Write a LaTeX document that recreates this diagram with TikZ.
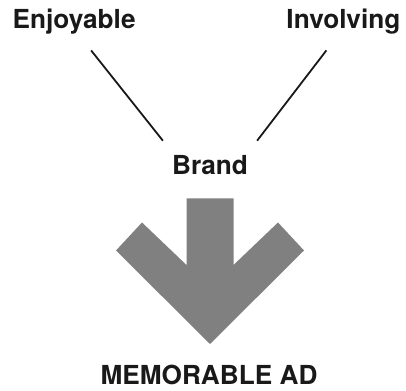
\documentclass[tikz,border=0pt]{standalone}
\usepackage{fontspec}
\setmainfont{TeX Gyre Heros}

\begin{document}
\begin{tikzpicture}[x=1pt,y=1pt,
        word/.style={font=\fontsize{26.2}{30}\selectfont\bfseries,inner sep=0pt,text=black!90},
        link/.style={line width=1.8pt,black!90}]
        \useasboundingbox (0,0) rectangle (406,390);

        % Words
        \node[word,anchor=base west] (enjoy) at (12.5,361.5) {Enjoyable};
        \node[word,anchor=base east] (involve) at (400.5,361.5) {Involving};
        \node[word,anchor=base] (brand) at (210,215) {Brand};
        \node[word,anchor=base] (memo) at (209,5.5) {MEMORABLE AD};

        % Lines into the brand
        \draw[link] ([xshift=17pt,yshift=-16pt]enjoy.south) -- ([xshift=-9pt,yshift=15pt]brand.north west);
        \draw[link] ([xshift=-17pt,yshift=-16pt]involve.south) -- ([xshift=9pt,yshift=15pt]brand.north east);

        % Big arrow
        \fill[gray] (186.5,191.7) -- (233.5,191.7) -- (233.5,125) -- (278,167.5) -- (304,139.5)
            -- (210,46) -- (116,139.5) -- (142,167.5) -- (186.5,125) -- cycle;

    \end{tikzpicture}
\end{document}
